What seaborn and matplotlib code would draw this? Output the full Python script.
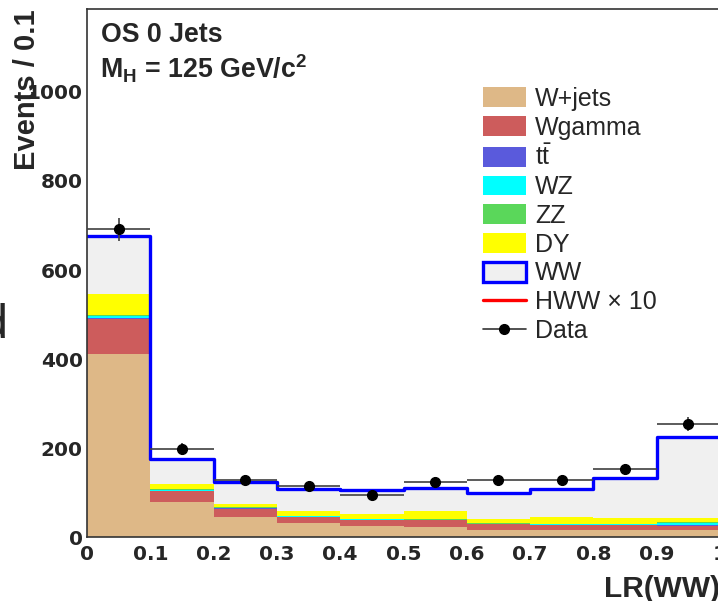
import numpy as np
import pandas as pd
import matplotlib
matplotlib.use("Agg")
import matplotlib.pyplot as plt
from matplotlib.patches import Patch
from matplotlib.lines import Line2D
from matplotlib.ticker import MultipleLocator, FuncFormatter
import seaborn as sns

# bin edges of LR(WW) and stacked backgrounds (events / 0.1)
bin_edges = [0.0, 0.1, 0.2, 0.3, 0.4, 0.5, 0.6, 0.7, 0.8, 0.9, 1.0]
wjets = [411, 79, 45, 31, 25, 24, 16, 16, 16, 16]
wgamma = [80, 25, 19, 14, 14, 14, 13, 11, 11, 10]
ttbar = [2, 1, 1, 1, 0.5, 0.5, 0.5, 0.5, 0.5, 1]
wz = [3, 2, 1, 1, 1, 1, 1, 1.5, 1.5, 6]
zz = [3, 1, 1, 1, 1, 1, 1, 1, 1, 2]
dy = [47, 11, 7, 10, 10.5, 18.5, 8.5, 15, 13, 8]
ww = [130, 56, 51, 50, 55, 52, 59, 63, 90, 183]
data = [691, 198, 129, 116, 96, 124, 129, 129, 153, 254]

procs = ["W+jets", "Wgamma", "ttbar", "WZ", "ZZ", "DY", "WW"]
colors = {"W+jets": "#deb887", "Wgamma": "#cd5c5c", "ttbar": "#5a5adc",
          "WZ": "#00ffff", "ZZ": "#5ad75a", "DY": "#ffff00", "WW": "#f0f0f0"}

edges = np.array(bin_edges)
centers = 0.5 * (edges[:-1] + edges[1:])
yields = dict(zip(procs, [wjets, wgamma, ttbar, wz, zz, dy, ww]))
df = pd.concat([pd.DataFrame({"x": centers, "w": yields[p], "proc": p}) for p in procs])
total = np.sum([yields[p] for p in procs], axis=0)

sns.set_style("white")
plt.rcParams["font.family"] = ["Liberation Sans", "DejaVu Sans"]
plt.rcParams["mathtext.fontset"] = "custom"
plt.rcParams["mathtext.rm"] = "Liberation Sans"
plt.rcParams["mathtext.bf"] = "Liberation Sans:bold"

fig = plt.figure(figsize=(7.18, 6.01), dpi=100)
ax = fig.add_axes([87 / 718, 1 - 537.3 / 601, 633 / 718, 528.3 / 601])

# seaborn stacks the first hue level on top, so reverse
sns.histplot(data=df, x="x", weights="w", hue="proc", hue_order=procs[::-1],
             bins=bin_edges, multiple="stack", element="step", fill=True,
             palette=colors, alpha=1, linewidth=0, legend=False, ax=ax)
sns.histplot(x=centers, weights=total, bins=bin_edges, element="step", fill=False,
             color="#0000ff", linewidth=2.4, ax=ax)

ax.errorbar(centers, data, xerr=0.05, yerr=np.sqrt(data), fmt="o", color="black",
            ecolor="#404040", elinewidth=1.2, markersize=7, capsize=0, zorder=5)

ax.set_xlim(0, 1)
ax.set_ylim(0, 1186)
ax.xaxis.set_major_locator(MultipleLocator(0.1))
ax.xaxis.set_minor_locator(MultipleLocator(0.02))
ax.yaxis.set_major_locator(MultipleLocator(200))
ax.yaxis.set_minor_locator(MultipleLocator(50))
ax.xaxis.set_major_formatter(FuncFormatter(lambda v, p: "%g" % round(v, 2)))
ax.tick_params(axis="both", which="both", direction="in", color="#333333",
               width=1.1, labelsize=14.5)
ax.tick_params(axis="y", which="major", length=13.7, pad=3)
ax.tick_params(axis="y", which="minor", length=7.2)
ax.tick_params(axis="x", which="major", length=11.3, pad=5.5)
ax.tick_params(axis="x", which="minor", length=5.3)
for lab in ax.get_xticklabels() + ax.get_yticklabels():
    lab.set_fontweight("bold")
    lab.set_family("DejaVu Sans")
for s in ax.spines.values():
    s.set_color("#333333")
    s.set_linewidth(1.2)

ax.set_xlabel("LR(WW)", fontsize=21.5, fontweight="bold", loc="right")
ax.xaxis.label.set_va("baseline")
ax.xaxis.set_label_coords(1.0, -0.113)
ax.set_ylabel("Events / 0.1", fontsize=21, fontweight="bold", loc="top")
ax.yaxis.set_label_coords(-0.073, 1.0)

fig.text(101 / 718, 1 - 41.5 / 601, "OS 0 Jets", fontsize=19.3, fontweight="bold",
         va="baseline")
fig.text(100 / 718, 1 - 78.5 / 601, r"$\mathbf{M_{H}}$ = 125 GeV/c$^{\mathbf{2}}$",
         fontsize=19.3, fontweight="bold", va="baseline")

handles = [Patch(facecolor=colors[p], edgecolor="none") for p in procs[:-1]]
handles.append(Patch(facecolor=colors["WW"], edgecolor="#0000ff", linewidth=2.4))
handles.append(Line2D([], [], color="red", lw=2.4))
handles.append(Line2D([], [], color="#333333", lw=1.2, marker="o", markersize=7,
                      markerfacecolor="black", markeredgecolor="black"))
labels = ["W+jets", "Wgamma", r"$\mathrm{t}\bar{\mathrm{t}}$", "WZ", "ZZ", "DY", "WW",
          "HWW \u00d7 10", "Data"]
fig.legend(handles, labels, loc="upper left", bbox_to_anchor=(483 / 718, 1 - 87 / 601),
           frameon=False, fontsize=18, handlelength=1.72, handleheight=0.84,
           handletextpad=0.36, labelspacing=0.19, borderpad=0, borderaxespad=0)

# cropped fragment at the left edge
fig.text(8 / 718, 1 - 338 / 601, "d", fontsize=35, ha="right", va="baseline")

fig.savefig("out.png", dpi=100)
